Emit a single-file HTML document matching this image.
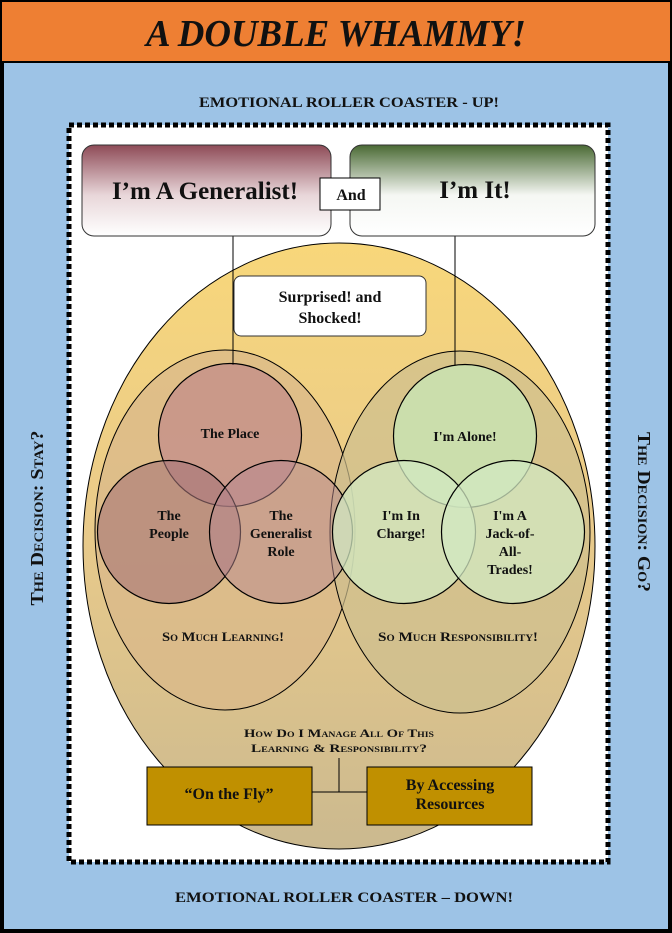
<!DOCTYPE html>
<html><head><meta charset="utf-8"><style>
html,body{margin:0;padding:0;background:#fff}
svg{display:block}
text{font-family:"Liberation Serif",serif;font-weight:bold;fill:#111}
.sc{font-variant:small-caps}
</style></head><body>
<svg width="672" height="933" viewBox="0 0 672 933" xmlns="http://www.w3.org/2000/svg">
<defs>
<linearGradient id="big" x1="0" y1="0" x2="0" y2="1">
<stop offset="0" stop-color="#f8d77a"/><stop offset="0.45" stop-color="#eacb8a"/><stop offset="1" stop-color="#cbb98f"/></linearGradient>
<linearGradient id="g1" x1="0" y1="0" x2="0" y2="1">
<stop offset="0" stop-color="#8e4b57"/><stop offset="0.55" stop-color="#e8d6d9"/><stop offset="1" stop-color="#fff"/></linearGradient>
<linearGradient id="g2" x1="0" y1="0" x2="0" y2="1">
<stop offset="0" stop-color="#4a6a34"/><stop offset="0.55" stop-color="#f5f7f3"/><stop offset="1" stop-color="#fff"/></linearGradient>
</defs>
<rect x="0" y="0" width="672" height="933" fill="#000"/>
<rect x="2" y="2" width="668" height="59" fill="#ee7f33"/>
<rect x="4" y="63" width="664" height="866" fill="#9dc3e6"/>
<text x="336" y="46" text-anchor="middle" font-size="38" font-style="italic" textLength="380" lengthAdjust="spacingAndGlyphs">A DOUBLE WHAMMY!</text>
<text x="349" y="107" text-anchor="middle" font-size="15" textLength="300" lengthAdjust="spacingAndGlyphs">EMOTIONAL ROLLER COASTER - UP!</text>
<text x="344" y="902" text-anchor="middle" font-size="15" textLength="338" lengthAdjust="spacingAndGlyphs">EMOTIONAL ROLLER COASTER – DOWN!</text>
<rect x="69" y="125" width="539" height="737" fill="#fff" stroke="#000" stroke-width="5" stroke-dasharray="5,3"/>
<text class="sc" transform="translate(43,518) rotate(-90)" text-anchor="middle" font-size="18" textLength="175" lengthAdjust="spacingAndGlyphs">The Decision: Stay?</text>
<text class="sc" transform="translate(638,512) rotate(90)" text-anchor="middle" font-size="18" textLength="160" lengthAdjust="spacingAndGlyphs">The Decision: Go?</text>
<ellipse cx="339" cy="546" rx="256" ry="303" fill="url(#big)" stroke="#000" stroke-width="1"/>
<ellipse cx="225" cy="530" rx="130" ry="180" fill="#d9b88a" fill-opacity="0.75" stroke="#000"/>
<ellipse cx="460" cy="532" rx="130" ry="181" fill="#cdbf8e" fill-opacity="0.7" stroke="#000"/>
<line x1="233" y1="236" x2="233" y2="365" stroke="#000"/>
<line x1="455" y1="236" x2="455" y2="366" stroke="#000"/>
<g stroke="#000" stroke-width="1.2">
<circle cx="230" cy="435" r="71.5" fill="#b87a8a" fill-opacity="0.55"/>
<circle cx="169" cy="532" r="71.5" fill="#a67478" fill-opacity="0.6"/>
<circle cx="281" cy="532" r="71.5" fill="#b88890" fill-opacity="0.5"/>
<circle cx="465" cy="436" r="71.5" fill="#c8e5b4" fill-opacity="0.8"/>
<circle cx="404" cy="532" r="71.5" fill="#d2e8c2" fill-opacity="0.75"/>
<circle cx="513" cy="532" r="71.5" fill="#d2e8c2" fill-opacity="0.75"/>
</g>
<g font-size="14" text-anchor="middle">
<text x="230" y="438">The Place</text>
<text x="169" y="520">The</text><text x="169" y="538">People</text>
<text x="281" y="520">The</text><text x="281" y="538">Generalist</text><text x="281" y="556">Role</text>
<text x="465" y="441">I'm Alone!</text>
<text x="401" y="520">I'm In</text><text x="401" y="538">Charge!</text>
<text x="510" y="520">I'm A</text><text x="510" y="538">Jack-of-</text><text x="510" y="556">All-</text><text x="510" y="574">Trades!</text>
<text class="sc" x="223" y="641" font-size="13" textLength="122" lengthAdjust="spacingAndGlyphs">So Much Learning!</text>
<text class="sc" x="458" y="641" font-size="13" textLength="160" lengthAdjust="spacingAndGlyphs">So Much Responsibility!</text>
<text class="sc" x="339" y="737" font-size="12" textLength="190" lengthAdjust="spacingAndGlyphs">How Do I Manage All Of This</text>
<text class="sc" x="339" y="752" font-size="12" textLength="176" lengthAdjust="spacingAndGlyphs">Learning &amp; Responsibility?</text>
</g>
<rect x="82" y="145" width="249" height="91" rx="12" fill="url(#g1)" stroke="#333"/>
<rect x="350" y="145" width="245" height="91" rx="12" fill="url(#g2)" stroke="#333"/>
<text x="205" y="199" text-anchor="middle" font-size="25">I’m A Generalist!</text>
<text x="475" y="198" text-anchor="middle" font-size="25">I’m It!</text>
<rect x="320" y="178" width="60" height="32" fill="#fff" stroke="#000"/>
<text x="351" y="200" text-anchor="middle" font-size="16" font-weight="normal">And</text>
<rect x="234" y="276" width="192" height="60" rx="7" fill="#fff" stroke="#333"/>
<text x="330" y="302" text-anchor="middle" font-size="16">Surprised! and</text>
<text x="330" y="323" text-anchor="middle" font-size="16">Shocked!</text>
<line x1="339" y1="758" x2="339" y2="792" stroke="#000"/>
<line x1="312" y1="792" x2="367" y2="792" stroke="#000"/>
<rect x="147" y="767" width="165" height="58" fill="#c09000" stroke="#000"/>
<rect x="367" y="767" width="165" height="58" fill="#c09000" stroke="#000"/>
<text x="229" y="799" text-anchor="middle" font-size="16">“On the Fly”</text>
<text x="450" y="790" text-anchor="middle" font-size="16">By Accessing</text>
<text x="450" y="809" text-anchor="middle" font-size="16">Resources</text>
</svg>
</body></html>
